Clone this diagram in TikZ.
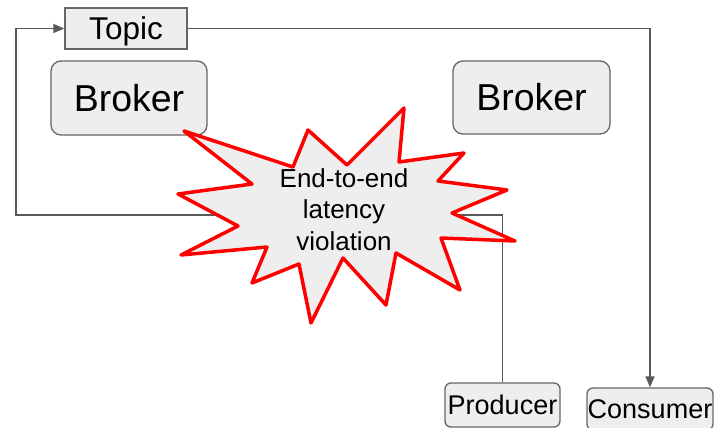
\documentclass[tikz,border=0pt]{standalone}
\usepackage{fontspec}
\setmainfont{Liberation Sans}
\usetikzlibrary{arrows.meta}
\definecolor{boxfill}{HTML}{EEEEEE}
\definecolor{boxline}{HTML}{666666}
\definecolor{wire}{HTML}{595959}
\definecolor{alarm}{HTML}{FF0000}
\begin{document}
\begin{tikzpicture}[x=1pt,y=-1pt,
  box/.style={draw=boxline,fill=boxfill,line width=1.3pt,inner sep=0pt,text=black},
  rbox/.style={box,rounded corners=#1},
  wirepath/.style={draw=wire,line width=1.3pt},
  arrowwire/.style={wirepath,-{Triangle[length=11pt,width=9pt]}},
  burst/.style={draw=alarm,fill=boxfill,line width=3.5pt,line join=round}]
\clip (0,0) rectangle (716,428);

% boxes: text height set to cap height so capitals sit mid-box
\node[box,minimum width=122pt,minimum height=41pt,
      font=\fontsize{31.5}{37}\selectfont,text height=22.6pt,text depth=0pt]
      (topic) at (126,28.5) {Topic};
\node[rbox=10pt,minimum width=156pt,minimum height=74pt,
      font=\fontsize{37.5}{45}\selectfont,text height=26.8pt,text depth=0pt]
      (brokerA) at (129,98) {Broker};
\node[rbox=10pt,minimum width=157pt,minimum height=73pt,
      font=\fontsize{37.5}{45}\selectfont,text height=26.8pt,text depth=0pt]
      (brokerB) at (531.5,97.5) {Broker};
\node[rbox=6pt,minimum width=115pt,minimum height=44pt,
      font=\fontsize{27}{32}\selectfont,text height=19.3pt,text depth=0pt]
      (producer) at (502.5,405) {Producer};
\node[rbox=6pt,minimum width=126pt,minimum height=42pt,
      font=\fontsize{27}{32}\selectfont,text height=19.3pt,text depth=0pt]
      (consumer) at (650,409) {Consumer};

% connectors
\coordinate (loopcorner) at (16,215);
\draw[arrowwire] (producer.north) |- (loopcorner) |- (topic.west);
\draw[arrowwire] (topic.east) -| (consumer.north);

% alert starburst
\draw[burst] (184,131) -- (293,167) -- (308,130) -- (347,165) -- (404,108)
  -- (399,162) -- (464,153) -- (438,181) -- (507,190) -- (452,213)
  -- (515,241) -- (441,238) -- (460,290) -- (396,253) -- (386,305)
  -- (343,258) -- (311,323) -- (299,264) -- (252,283) -- (267,247)
  -- (181,255) -- (238,226) -- (178,194) -- (252,184) -- cycle;
\node[align=center,inner sep=0pt,font=\fontsize{26}{31.5}\selectfont]
  (alert) at (344,209.5) {End-to-end\\latency\\violation};
\end{tikzpicture}
\end{document}
